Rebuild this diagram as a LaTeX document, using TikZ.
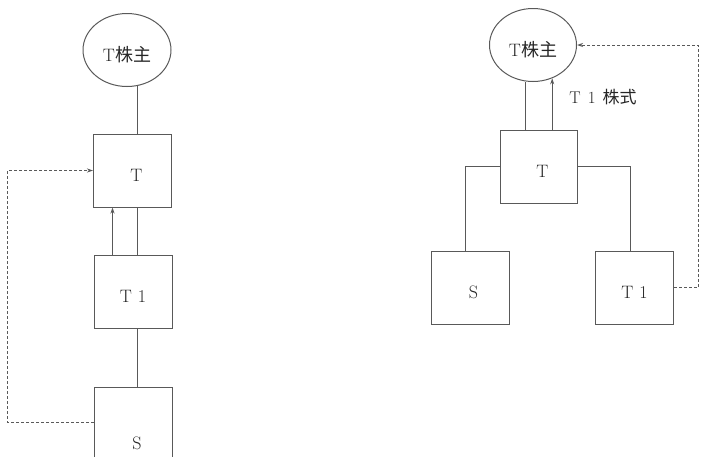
\documentclass[tikz,border=0pt]{standalone}
\usepackage{fontspec}
\newfontfamily\cjk{Noto Sans CJK SC}
\usetikzlibrary{shapes.geometric,arrows.meta}
\begin{document}
\begin{tikzpicture}[x=1pt,y=-1pt,
  lin/.style={draw=black!65,line width=1pt},
  txt/.style={text=black!85,font=\fontsize{18}{20}\selectfont},
  ell/.style={ellipse,lin,txt,minimum width=88pt,minimum height=73pt,inner sep=0pt,
    text height=22pt,text depth=0pt},
  box/.style={rectangle,lin,txt,minimum width=78pt,minimum height=73pt,inner sep=0pt,
    text height=22pt,text depth=0pt},
  arr/.style={lin,-{Stealth[length=6pt,width=4pt]}},
  dsh/.style={lin,dash pattern=on 3pt off 2pt,-{Stealth[length=6pt,width=4pt]}}]
\useasboundingbox (0,0) rectangle (701,456);
\clip (0,0) rectangle (701,456);
% left
\node[ell] (shL) at (127,50) {T{\cjk 株主}\hspace{12pt}};
\node[box] (TL) at (132.5,170.5) {\hspace{8pt}T};
\node[box] (T1L) at (133,291.5) {T\hspace{6pt}1\hspace{6pt}};
\node[box,minimum height=102pt] (SL) at (133,438) {\hspace{8pt}S};
\coordinate (lx) at (7,0);
\draw[lin] (shL.-74) -- (shL.-74 |- TL.north);
\draw[arr] ([xshift=-20.5pt]T1L.north) -- ([xshift=-20.5pt]T1L.north |- TL.south);
\draw[lin] ([xshift=4.5pt]T1L.north) -- ([xshift=4.5pt]T1L.north |- TL.south);
\draw[lin] ([xshift=4pt]T1L.south) -- ([xshift=4pt]T1L.south |- SL.north);
\draw[dsh] ([yshift=16pt]SL.west) -- ([yshift=16pt]SL.west -| lx) |- (TL.west);
% right
\node[ell,minimum width=87pt] (shR) at (533,45) {T{\cjk 株主}\hspace{12pt}};
\node[box,minimum width=77pt] (TR) at (538.5,166.5) {\hspace{8pt}T};
\node[box] (SR) at (470.5,287.5) {\hspace{6pt}S};
\node[box] (T1R) at (634.5,287.5) {T\hspace{6pt}1};
\node[txt,font=\fontsize{17}{20}\selectfont] (lab) at (603,97) {T\hspace{7pt}1\hspace{7pt}{\cjk 株式}};
\coordinate (rx) at (698,0);
\draw[lin] (shR.-101) -- (shR.-101 |- TR.north);
\draw[arr] (shR.-60 |- TR.north) -- (shR.-60);
\draw[lin] (TR.west) -| ([xshift=-5.5pt]SR.north);
\draw[lin] (TR.east) -| ([xshift=-4.5pt]T1R.north);
\draw[dsh] (T1R.east) -- (T1R.east -| rx) |- (shR.east);
\end{tikzpicture}
\end{document}
